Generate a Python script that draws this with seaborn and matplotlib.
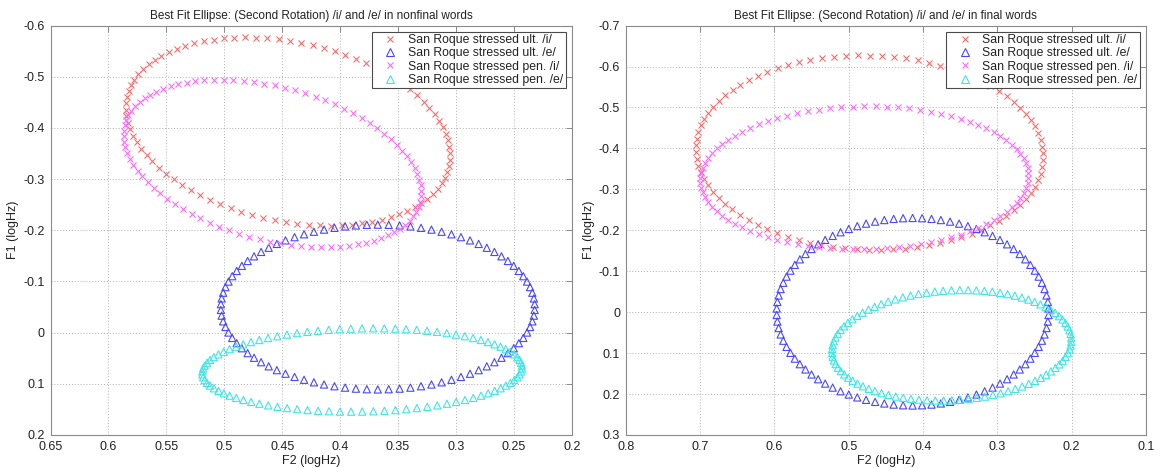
import numpy as np
import pandas as pd
import matplotlib
matplotlib.use("Agg")
import matplotlib.pyplot as plt
from matplotlib.lines import Line2D
import seaborn as sns

# Series shared by both panels
series_labels = [
    "San Roque stressed ult. /i/",
    "San Roque stressed ult. /e/",
    "San Roque stressed pen. /i/",
    "San Roque stressed pen. /e/",
]
series_markers = ["x", "^", "x", "^"]
series_colors = ["#ff6a6a", "#4848ff", "#ff6aff", "#3ee6e6"]

panel_titles = [
    "Best Fit Ellipse: (Second Rotation) /i/ and /e/ in nonfinal words",
    "Best Fit Ellipse: (Second Rotation) /i/ and /e/ in final words",
]

# Fitted ellipses: centre (F2, F1), half-extent along each axis, and
# F1/F2 coupling (F1 offset at the F2 extreme, as a fraction of the F1 half-extent)
nonfinal_f2_center = [0.445, 0.3675, 0.4585, 0.381]
nonfinal_f1_center = [-0.393, -0.050, -0.3305, 0.073]
nonfinal_f2_half = [0.140, 0.1355, 0.1285, 0.138]
nonfinal_f1_half = [0.184, 0.161, 0.1635, 0.0815]
nonfinal_coupling = [-0.255, 0.0, -0.346, 0.069]

final_f2_center = [0.472, 0.414, 0.479, 0.3614]
final_f1_center = [-0.3895, -0.001, -0.328, 0.081]
final_f2_half = [0.234, 0.183, 0.221, 0.161]
final_f1_half = [0.2375, 0.229, 0.175, 0.135]
final_coupling = [-0.04, 0.0, 0.03, 0.10]

# Axis ticks
nonfinal_xticks = [0.65, 0.6, 0.55, 0.5, 0.45, 0.4, 0.35, 0.3, 0.25, 0.2]
nonfinal_yticks = [-0.6, -0.5, -0.4, -0.3, -0.2, -0.1, 0.0, 0.1, 0.2]
final_xticks = [0.8, 0.7, 0.6, 0.5, 0.4, 0.3, 0.2, 0.1]
final_yticks = [-0.7, -0.6, -0.5, -0.4, -0.3, -0.2, -0.1, 0.0, 0.1, 0.2, 0.3]

N_POINTS = 90
F2_WEIGHT = 6.0  # F2 stretch of the space the ellipse is sampled in


def ellipse_points(cx, cy, hx, hy, rho, n=N_POINTS, k=F2_WEIGHT):
    cov = np.array([[hx * hx, rho * hx * hy], [rho * hx * hy, hy * hy]])
    d = np.diag([k, 1.0])
    w, v = np.linalg.eigh(d @ cov @ d)
    t = np.linspace(0, 2 * np.pi, n, endpoint=False)
    pts = v @ (np.sqrt(np.clip(w, 0, None))[:, None] * np.vstack([np.cos(t), np.sin(t)]))
    return cx + pts[0] / k, cy + pts[1]


def build_frame(cx, cy, hx, hy, rho):
    rows = []
    for i, lab in enumerate(series_labels):
        x, y = ellipse_points(cx[i], cy[i], hx[i], hy[i], rho[i])
        rows.append(pd.DataFrame({"F2": x, "F1": y, "series": lab}))
    return pd.concat(rows, ignore_index=True)


panels = [
    dict(df=build_frame(nonfinal_f2_center, nonfinal_f1_center, nonfinal_f2_half,
                        nonfinal_f1_half, nonfinal_coupling),
         xticks=nonfinal_xticks, yticks=nonfinal_yticks, title=panel_titles[0]),
    dict(df=build_frame(final_f2_center, final_f1_center, final_f2_half,
                        final_f1_half, final_coupling),
         xticks=final_xticks, yticks=final_yticks, title=panel_titles[1]),
]

sns.set_theme(style="white")
plt.rcParams["font.family"] = ["Liberation Sans", "DejaVu Sans"]

fig = plt.figure(figsize=(11.61, 4.69), dpi=100)
axes = [fig.add_axes([0.0435, 0.0725, 0.449, 0.873]),
        fig.add_axes([0.539, 0.0725, 0.448, 0.873])]

frame_col = "#8a8a8a"
text_col = "#222222"


def fmt(v):
    v = round(v, 3)
    return "0" if v == 0 else f"{v:g}"


for ax, p in zip(axes, panels):
    df = p["df"]
    for lab, mk, col in zip(series_labels, series_markers, series_colors):
        sub = df[df["series"] == lab]
        if mk == "x":
            sns.scatterplot(data=sub, x="F2", y="F1", marker="x", color=col,
                            s=19, linewidth=0.8, ax=ax, legend=False, zorder=3)
        else:
            sns.scatterplot(data=sub, x="F2", y="F1", marker="^", facecolor="none",
                            edgecolor=col, s=27, linewidth=0.8, ax=ax, legend=False,
                            zorder=3)

    xt, yt = p["xticks"], p["yticks"]
    ax.set_xlim(max(xt), min(xt))
    ax.set_ylim(max(yt), min(yt))
    ax.set_xticks(xt)
    ax.set_xticklabels([fmt(v) for v in xt])
    ax.set_yticks(yt)
    ax.set_yticklabels([fmt(v) for v in yt])
    ax.grid(True, linestyle=(0, (1, 2)), color="#b0b0b0", linewidth=0.7, zorder=0)
    ax.set_axisbelow(True)
    for sp in ax.spines.values():
        sp.set_color(frame_col)
        sp.set_linewidth(0.8)
    ax.tick_params(direction="in", length=4, width=0.7, color=frame_col,
                   top=True, right=True, labelsize=9, labelcolor=text_col, pad=4)
    ax.set_xlabel("F2 (logHz)", fontsize=9, color=text_col, labelpad=2)
    ax.set_ylabel("F1 (logHz)", fontsize=9, color=text_col, labelpad=3)
    ax.set_title(p["title"], fontsize=8.5, color=text_col, pad=5)

    handles = []
    for lab, mk, col in zip(series_labels, series_markers, series_colors):
        if mk == "x":
            handles.append(Line2D([], [], ls="none", marker="x", color=col,
                                  markersize=4.5, mew=0.8, label=lab))
        else:
            handles.append(Line2D([], [], ls="none", marker="^", color=col,
                                  markerfacecolor="none", markersize=5.5, mew=0.8,
                                  label=lab))
    leg = ax.legend(handles=handles, loc="upper right", fontsize=8.8,
                    frameon=True, fancybox=False, framealpha=1,
                    edgecolor="#4a4a4a", borderpad=0.2, labelspacing=0.1,
                    handlelength=2.6, handletextpad=0.15, borderaxespad=0.5)
    leg.get_frame().set_linewidth(0.8)
    for t in leg.get_texts():
        t.set_color(text_col)

fig.savefig("out.png", dpi=100, facecolor="white")
